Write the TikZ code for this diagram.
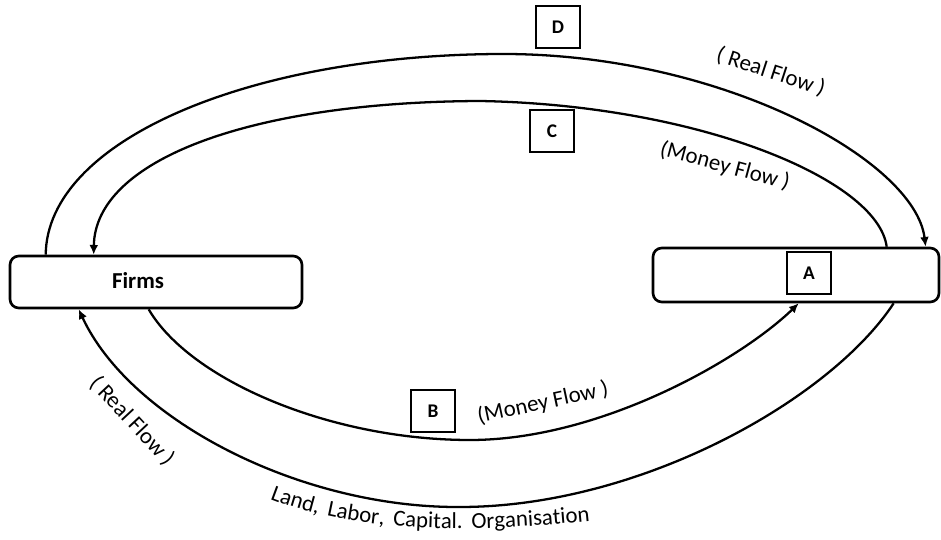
\documentclass[tikz,border=0pt]{standalone}
\usepackage{fontspec}
\setmainfont{Carlito}
\usetikzlibrary{arrows.meta,decorations.text}
\begin{document}
\begin{tikzpicture}[x=0.02cm,y=0.02cm,
  bigbox/.style={draw,rounded corners=5pt,line width=1.5pt,inner sep=0pt},
  letterbox/.style={draw,line width=1.1pt,minimum width=0.88cm,minimum height=0.84cm,inner sep=0pt,font=\fontsize{11}{13}\selectfont\bfseries},
  flow/.style={line width=1.3pt},
  arrowflow/.style={flow,-{Latex[length=5.5pt,width=5pt]}},
  lbl/.style={font=\fontsize{13}{15}\selectfont,inner sep=0pt}]
\useasboundingbox (0,0) rectangle (941,-540);

% boxes
\node[bigbox,minimum width=5.84cm,minimum height=1.04cm] (firms) at (156,-282) {};
\node[font=\fontsize{13}{15}\selectfont\bfseries,inner sep=0pt] (firmstext) at (138,-281) {Firms};
\node[bigbox,minimum width=5.72cm,minimum height=1.08cm] (hh) at (796,-275) {};
\node[letterbox] (A) at (809,-273) {A};
\node[letterbox] (D) at (558,-27) {D};
\node[letterbox] (C) at (552,-131) {C};
\node[letterbox] (B) at (433,-411) {B};

% outer top arc (real flow) firms -> hh
\draw[arrowflow] ([xshift=0.74cm]firms.north west)
  .. controls (47,-140) and (250,-55) .. (500,-54)
  .. controls (720,-53) and (915,-160) .. ([xshift=5.48cm]hh.north west);

% inner top arc (money flow) hh -> firms
\draw[arrowflow] ([xshift=4.7cm]hh.north west)
  .. controls (878,-180) and (700,-105) .. (480,-101)
  .. controls (250,-102) and (95,-160) .. ([xshift=1.7cm]firms.north west);

% inner bottom arc (money flow) firms -> hh
\draw[arrowflow] ([xshift=2.8cm]firms.south west)
  .. controls (190,-380) and (330,-440) .. (470,-440)
  .. controls (600,-440) and (740,-360) .. ([xshift=2.94cm]hh.south west);

% outer bottom arc (real flow) hh -> firms
\draw[arrowflow] ([xshift=4.84cm]hh.south west)
  .. controls (830,-400) and (640,-507) .. (460,-507)
  .. controls (300,-508) and (130,-420) .. ([xshift=1.4cm]firms.south west);

% labels
\node[lbl,rotate=-18] (rf1) at (771,-72) {( Real Flow )};
\node[lbl,rotate=-15] (mf1) at (725,-166) {(Money Flow )};
\node[lbl,rotate=12] (mf2) at (543,-403) {(Money Flow )};
\node[lbl,rotate=-47] (rf2) at (132,-421) {( Real Flow )};

\path[decorate,decoration={text along path,text align={fit to path stretching spaces},
  text={|\fontsize{13}{15}\selectfont|Land, Labor, Capital. Organisation}}]
  (270,-499) .. controls (350,-530) and (450,-535) .. (590,-521);
\end{tikzpicture}
\end{document}
